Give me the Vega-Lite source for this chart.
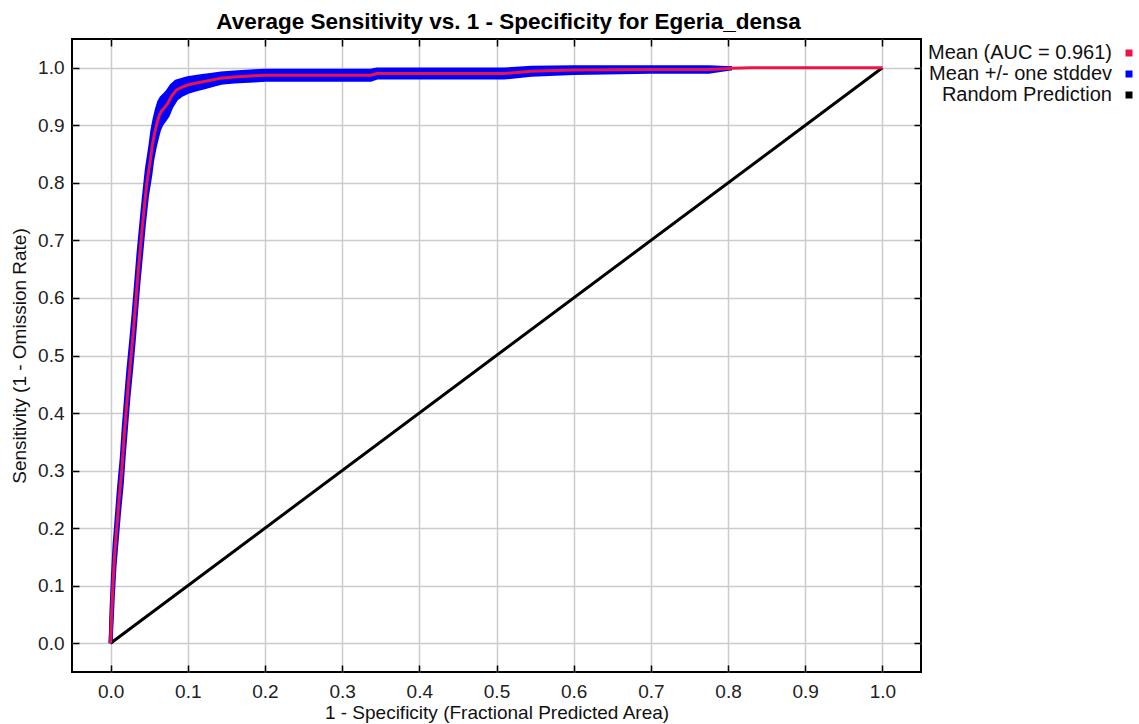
{
  "$schema": "https://vega.github.io/schema/vega-lite/v6.json",
  "width": 849,
  "height": 633,
  "autosize": "none",
  "padding": {"left": 72, "top": 39, "right": 218, "bottom": 52},
  "background": "white",
  "config": {
    "font": "Liberation Sans",
    "view": {"stroke": "black", "strokeWidth": 2},
    "axis": {
      "domain": false,
      "tickColor": "black",
      "tickWidth": 1.5,
      "tickSize": -7,
      "labelFont": "Liberation Sans",
      "labelFontSize": 19,
      "labelColor": "#222",
      "titleFont": "Liberation Sans",
      "titleFontSize": 19,
      "titleFontWeight": "normal",
      "titleColor": "#111",
      "gridColor": "#cccccc",
      "gridWidth": 1.5
    }
  },
  "title": {
    "text": "Average Sensitivity vs. 1 - Specificity for Egeria_densa",
    "fontSize": 22.5,
    "fontWeight": "bold",
    "font": "Liberation Sans",
    "color": "black",
    "dx": 12,
    "offset": 5
  },
  "datasets": {
    "roc": [
      {"fpr": 0.000, "mean": 0.000, "lo": 0.000, "hi": 0.000},
      {"fpr": 0.001, "mean": 0.040, "lo": 0.028, "hi": 0.052},
      {"fpr": 0.003, "mean": 0.100, "lo": 0.084, "hi": 0.116},
      {"fpr": 0.005, "mean": 0.150, "lo": 0.132, "hi": 0.168},
      {"fpr": 0.008, "mean": 0.200, "lo": 0.180, "hi": 0.220},
      {"fpr": 0.011, "mean": 0.250, "lo": 0.228, "hi": 0.272},
      {"fpr": 0.0145, "mean": 0.300, "lo": 0.277, "hi": 0.323},
      {"fpr": 0.017, "mean": 0.350, "lo": 0.325, "hi": 0.375},
      {"fpr": 0.020, "mean": 0.400, "lo": 0.375, "hi": 0.425},
      {"fpr": 0.023, "mean": 0.450, "lo": 0.425, "hi": 0.475},
      {"fpr": 0.0266, "mean": 0.500, "lo": 0.475, "hi": 0.525},
      {"fpr": 0.030, "mean": 0.550, "lo": 0.525, "hi": 0.575},
      {"fpr": 0.033, "mean": 0.600, "lo": 0.575, "hi": 0.625},
      {"fpr": 0.036, "mean": 0.650, "lo": 0.625, "hi": 0.675},
      {"fpr": 0.0395, "mean": 0.700, "lo": 0.675, "hi": 0.725},
      {"fpr": 0.043, "mean": 0.750, "lo": 0.726, "hi": 0.774},
      {"fpr": 0.047, "mean": 0.800, "lo": 0.776, "hi": 0.824},
      {"fpr": 0.0516, "mean": 0.840, "lo": 0.815, "hi": 0.865},
      {"fpr": 0.054, "mean": 0.865, "lo": 0.840, "hi": 0.890},
      {"fpr": 0.057, "mean": 0.886, "lo": 0.861, "hi": 0.911},
      {"fpr": 0.060, "mean": 0.903, "lo": 0.878, "hi": 0.928},
      {"fpr": 0.063, "mean": 0.917, "lo": 0.893, "hi": 0.941},
      {"fpr": 0.066, "mean": 0.925, "lo": 0.902, "hi": 0.948},
      {"fpr": 0.070, "mean": 0.931, "lo": 0.909, "hi": 0.953},
      {"fpr": 0.074, "mean": 0.938, "lo": 0.917, "hi": 0.959},
      {"fpr": 0.079, "mean": 0.951, "lo": 0.933, "hi": 0.969},
      {"fpr": 0.085, "mean": 0.961, "lo": 0.946, "hi": 0.976},
      {"fpr": 0.092, "mean": 0.966, "lo": 0.953, "hi": 0.979},
      {"fpr": 0.100, "mean": 0.970, "lo": 0.958, "hi": 0.982},
      {"fpr": 0.110, "mean": 0.973, "lo": 0.962, "hi": 0.984},
      {"fpr": 0.1215, "mean": 0.976, "lo": 0.966, "hi": 0.986},
      {"fpr": 0.132, "mean": 0.979, "lo": 0.970, "hi": 0.988},
      {"fpr": 0.143, "mean": 0.982, "lo": 0.974, "hi": 0.990},
      {"fpr": 0.160, "mean": 0.984, "lo": 0.976, "hi": 0.992},
      {"fpr": 0.186, "mean": 0.986, "lo": 0.978, "hi": 0.994},
      {"fpr": 0.200, "mean": 0.987, "lo": 0.979, "hi": 0.995},
      {"fpr": 0.274, "mean": 0.987, "lo": 0.979, "hi": 0.995},
      {"fpr": 0.337, "mean": 0.987, "lo": 0.979, "hi": 0.995},
      {"fpr": 0.345, "mean": 0.990, "lo": 0.983, "hi": 0.997},
      {"fpr": 0.510, "mean": 0.990, "lo": 0.983, "hi": 0.997},
      {"fpr": 0.545, "mean": 0.994, "lo": 0.988, "hi": 1.000},
      {"fpr": 0.600, "mean": 0.996, "lo": 0.991, "hi": 1.001},
      {"fpr": 0.700, "mean": 0.997, "lo": 0.993, "hi": 1.001},
      {"fpr": 0.775, "mean": 0.997, "lo": 0.993, "hi": 1.001},
      {"fpr": 0.790, "mean": 0.998, "lo": 0.996, "hi": 1.000},
      {"fpr": 0.805, "mean": 0.999, "lo": 0.999, "hi": 0.999},
      {"fpr": 0.830, "mean": 1.000, "lo": null, "hi": null},
      {"fpr": 1.000, "mean": 1.000, "lo": null, "hi": null}
    ],
    "diag": [
      {"fpr": 0, "tpr": 0},
      {"fpr": 1, "tpr": 1}
    ]
  },
  "layer": [
    {
      "data": {"name": "roc"},
      "mark": {"type": "area", "opacity": 1},
      "encoding": {
        "x": {
          "field": "fpr", "type": "quantitative",
          "scale": {"domain": [-0.05, 1.05], "nice": false, "zero": false},
          "axis": {
            "orient": "bottom",
            "title": "1 - Specificity (Fractional Predicted Area)",
            "values": [0, 0.1, 0.2, 0.3, 0.4, 0.5, 0.6, 0.7, 0.8, 0.9, 1.0],
            "format": ".1f",
            "labelPadding": 17,
            "titlePadding": 2,
            "grid": true
          }
        },
        "y": {
          "field": "lo", "type": "quantitative",
          "scale": {"domain": [-0.05, 1.05], "nice": false, "zero": false},
          "axis": {
            "orient": "left",
            "title": "Sensitivity (1 - Omission Rate)",
            "values": [0, 0.1, 0.2, 0.3, 0.4, 0.5, 0.6, 0.7, 0.8, 0.9, 1.0],
            "format": ".1f",
            "labelPadding": 15,
            "titlePadding": 8,
            "grid": true
          }
        },
        "y2": {"field": "hi"},
        "color": {
          "datum": "Mean +/- one stddev",
          "type": "nominal",
          "scale": {
            "domain": ["Mean (AUC = 0.961)", "Mean +/- one stddev", "Random Prediction"],
            "range": ["#ec1446", "#0000ff", "#000000"]
          },
          "legend": {
            "title": null,
            "orient": "none",
            "legendX": 1047,
            "legendY": 4,
            "padding": 0,
            "symbolType": "square",
            "symbolSize": 49,
            "symbolStrokeWidth": 0,
            "labelAlign": "right",
            "labelOffset": -27,
            "labelLimit": 0,
            "labelFont": "Liberation Sans",
            "labelFontSize": 20,
            "labelColor": "#111",
            "rowPadding": 1,
            "encode": {
              "symbols": {
                "update": {
                  "fill": {"scale": "color", "field": "value"},
                  "stroke": {"value": "transparent"},
                  "opacity": {"value": 1}
                }
              }
            }
          }
        }
      }
    },
    {
      "data": {"name": "roc"},
      "mark": {"type": "line", "strokeWidth": 4},
      "encoding": {
        "x": {"field": "fpr", "type": "quantitative", "axis": null},
        "y": {"field": "lo", "type": "quantitative", "axis": null},
        "color": {"datum": "Mean +/- one stddev", "type": "nominal"}
      }
    },
    {
      "data": {"name": "roc"},
      "mark": {"type": "line", "strokeWidth": 4},
      "encoding": {
        "x": {"field": "fpr", "type": "quantitative", "axis": null},
        "y": {"field": "hi", "type": "quantitative", "axis": null},
        "color": {"datum": "Mean +/- one stddev", "type": "nominal"}
      }
    },
    {
      "data": {"name": "diag"},
      "mark": {"type": "line", "strokeWidth": 3},
      "encoding": {
        "x": {
          "field": "fpr", "type": "quantitative",
          "axis": {
            "orient": "top", "title": null, "labels": false, "grid": false,
            "values": [0, 0.1, 0.2, 0.3, 0.4, 0.5, 0.6, 0.7, 0.8, 0.9, 1.0]
          }
        },
        "y": {
          "field": "tpr", "type": "quantitative",
          "axis": {
            "orient": "right", "title": null, "labels": false, "grid": false,
            "values": [0, 0.1, 0.2, 0.3, 0.4, 0.5, 0.6, 0.7, 0.8, 0.9, 1.0]
          }
        },
        "color": {"datum": "Random Prediction", "type": "nominal"}
      }
    },
    {
      "data": {"name": "roc"},
      "mark": {"type": "line", "strokeWidth": 3},
      "encoding": {
        "x": {"field": "fpr", "type": "quantitative", "axis": null},
        "y": {"field": "mean", "type": "quantitative", "axis": null},
        "color": {"datum": "Mean (AUC = 0.961)", "type": "nominal"}
      }
    }
  ],
  "resolve": {"axis": {"x": "independent", "y": "independent"}}
}
